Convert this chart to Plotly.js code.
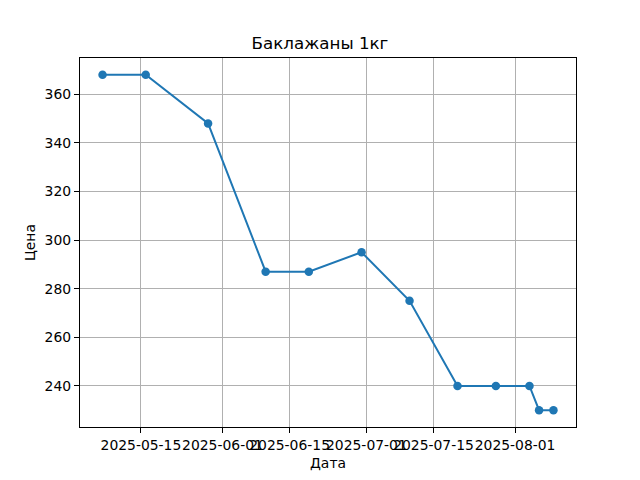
<!DOCTYPE html>
<html>
<head>
<meta charset="utf-8">
<script src="https://cdn.plot.ly/plotly-3.0.1.min.js"></script>
<style>
  html, body { margin: 0; padding: 0; background: #fff; }
  #chart { width: 640px; height: 480px; }
</style>
</head>
<body>
<div id="chart"></div>
<script>
    // --- DATA ---
    const dates = ['2025-05-07', '2025-05-16', '2025-05-29', '2025-06-10', '2025-06-19', '2025-06-30',
                   '2025-07-10', '2025-07-20', '2025-07-28', '2025-08-04', '2025-08-06', '2025-08-09'];
    const prices = [368, 368, 348, 287, 287, 295, 275, 240, 240, 240, 230, 230];
    const xTicks = ['2025-05-15', '2025-06-01', '2025-06-15', '2025-07-01', '2025-07-15', '2025-08-01'];
    const yTicks = [240, 260, 280, 300, 320, 340, 360];

    const font = 'DejaVu Sans, sans-serif';

    const trace = {
        type: 'scatter',
        mode: 'lines+markers',
        x: dates,
        y: prices,
        line: { color: '#1f77b4', width: 2 },
        marker: { color: '#1f77b4', size: 8.5 }
    };

    const axisCommon = {
        showline: true,
        mirror: true,
        linecolor: 'black',
        linewidth: 1.1,
        showgrid: true,
        gridcolor: '#b0b0b0',
        gridwidth: 1.1,
        zeroline: false,
        ticks: 'outside',
        ticklen: 5,
        tickwidth: 1.1,
        tickcolor: 'black',
        tickfont: { family: font, size: 13.9, color: 'black' }
    };

    const layout = {
        width: 640,
        height: 480,
        paper_bgcolor: 'white',
        plot_bgcolor: 'white',
        showlegend: false,
        margin: { l: 80, r: 64, t: 58, b: 53 },
        title: {
            text: 'Баклажаны 1кг',
            font: { family: font, size: 16.7, color: 'black' },
            x: 0.5, xanchor: 'center',
            y: 1 - 43 / 480, yanchor: 'middle'
        },
        xaxis: Object.assign({}, axisCommon, {
            type: 'date',
            range: ['2025-05-02 07:12', '2025-08-13 16:48'],
            tickmode: 'array',
            tickvals: xTicks,
            ticktext: xTicks,
            tickangle: 0,
            title: { text: 'Дата', font: { family: font, size: 13.9, color: 'black' }, standoff: 6 }
        }),
        yaxis: Object.assign({}, axisCommon, {
            range: [223.1, 374.9],
            tickmode: 'array',
            tickvals: yTicks,
            ticktext: yTicks.map(String),
            title: { text: 'Цена', font: { family: font, size: 13.9, color: 'black' }, standoff: 5 }
        })
    };

    Plotly.newPlot('chart', [trace], layout, { displayModeBar: false, staticPlot: true });
</script>
</body>
</html>
